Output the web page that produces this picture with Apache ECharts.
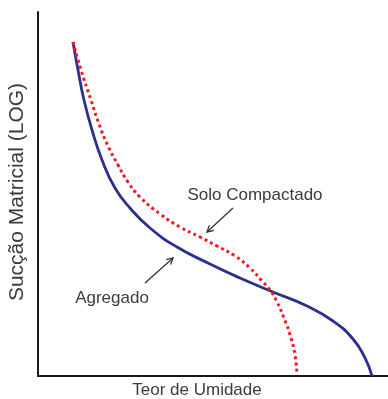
<!DOCTYPE html>
<html>
<head>
<meta charset="utf-8">
<script src="https://cdn.jsdelivr.net/npm/echarts@6/dist/echarts.min.js"></script>
<style>
html,body{margin:0;padding:0;background:#fff;}
#chart{width:388px;height:399px;}
</style>
</head>
<body>
<div id="chart"></div>
<script>
// Curve values (relative units: x = teor de umidade, y = sucção matricial log)
const agregadoX = [10.0, 11.43, 13.14, 15.43, 18.29, 22.0, 26.29, 32.0, 39.71, 49.14, 57.71, 67.14, 76.86, 84.29, 90.0, 93.43, 95.43];
const agregadoY = [91.76, 84.07, 75.82, 67.58, 59.34, 51.65, 46.15, 40.66, 35.44, 30.77, 26.92, 23.08, 19.23, 15.11, 10.16, 4.95, 0];
const soloX = [10.0, 12.29, 15.14, 17.43, 20.0, 22.86, 25.71, 29.14, 34.86, 40.57, 46.29, 51.14, 56.29, 60.57, 64.0, 66.29, 68.29, 70.29, 72.29, 73.43, 74.0];
const soloY = [91.76, 84.07, 75.82, 69.23, 63.19, 57.97, 53.30, 49.18, 44.51, 40.93, 38.19, 35.71, 32.97, 29.67, 26.10, 23.63, 20.33, 15.93, 10.44, 5.77, 0.55];
// Annotation arrows: [tailX, tailY, headX, headY]
const arrowAgregado = [30.57, 25.55, 38.57, 32.42];
const arrowSolo = [55.71, 46.15, 48.29, 39.56];
const labels = { y: 'Sucção Matricial (LOG)', x: 'Teor de Umidade', solo: 'Solo Compactado', agregado: 'Agregado' };

const zip = (xs, ys) => xs.map((v, i) => [v, ys[i]]);
const font = '"Liberation Sans", Arial, sans-serif';
const txtColor = '#3c3c3c';

const chart = echarts.init(document.getElementById('chart'), null, { renderer: 'canvas' });
chart.setOption({
  animation: false,
  backgroundColor: '#fff',
  grid: { left: 38, right: 0, top: 12, bottom: 23 },
  xAxis: {
    type: 'value', min: 0, max: 100,
    axisLine: { show: true, onZero: false, lineStyle: { color: '#1a1a1a', width: 2 } },
    axisTick: { show: false }, axisLabel: { show: false }, splitLine: { show: false }
  },
  yAxis: {
    type: 'value', min: 0, max: 100,
    axisLine: { show: true, onZero: false, lineStyle: { color: '#1a1a1a', width: 2 } },
    axisTick: { show: false }, axisLabel: { show: false }, splitLine: { show: false }
  },
  series: [
    {
      type: 'line', name: labels.agregado, data: zip(agregadoX, agregadoY),
      smooth: 0.5, showSymbol: false, z: 3,
      lineStyle: { color: '#2c2f8e', width: 2.8 }
    },
    {
      type: 'line', name: labels.solo, data: zip(soloX, soloY),
      smooth: 0.5, showSymbol: false, z: 4,
      lineStyle: { color: '#ee1c25', width: 3, type: [3, 3.2], cap: 'butt' }
    },
    {
      type: 'custom', z: 5,
      data: [arrowAgregado, arrowSolo],
      renderItem: function (params, api) {
        const t = api.coord([api.value(0), api.value(1)]);
        const h = api.coord([api.value(2), api.value(3)]);
        const ang = Math.atan2(h[1] - t[1], h[0] - t[0]);
        const L = 7, a = 0.5;
        const p1 = [h[0] - L * Math.cos(ang - a), h[1] - L * Math.sin(ang - a)];
        const p2 = [h[0] - L * Math.cos(ang + a), h[1] - L * Math.sin(ang + a)];
        return {
          type: 'group',
          children: [
            { type: 'line', shape: { x1: t[0], y1: t[1], x2: h[0], y2: h[1] }, style: { stroke: '#333', lineWidth: 1.3 } },
            { type: 'polyline', shape: { points: [p1, h, p2] }, style: { stroke: '#333', lineWidth: 1.3, fill: null } }
          ]
        };
      }
    }
  ],
  graphic: [
    { type: 'text', x: 17, y: 192, rotation: Math.PI / 2,
      style: { text: labels.y, font: '21px ' + font, fill: txtColor, textAlign: 'center', textVerticalAlign: 'middle' } },
    { type: 'text', x: 197, y: 390,
      style: { text: labels.x, font: '17px ' + font, fill: txtColor, textAlign: 'center', textVerticalAlign: 'middle' } },
    { type: 'text', x: 255, y: 195,
      style: { text: labels.solo, font: '17px ' + font, fill: txtColor, textAlign: 'center', textVerticalAlign: 'middle' } },
    { type: 'text', x: 112, y: 298,
      style: { text: labels.agregado, font: '17px ' + font, fill: txtColor, textAlign: 'center', textVerticalAlign: 'middle' } }
  ]
});
</script>
</body>
</html>
